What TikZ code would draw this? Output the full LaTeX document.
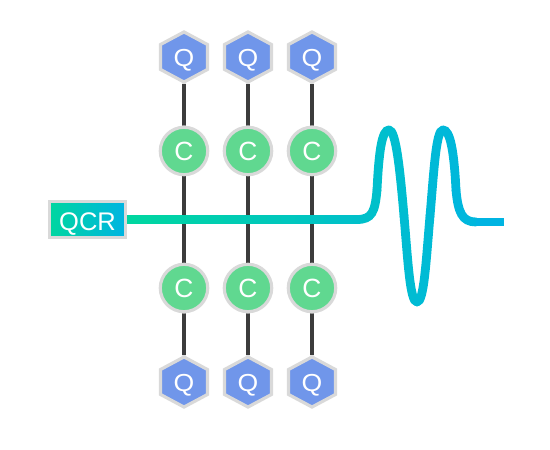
\documentclass[tikz,border=0pt]{standalone}
\usepackage{fontspec}
\setsansfont{Liberation Sans}
\usetikzlibrary{positioning, shapes.geometric, calc, backgrounds}
\colorlet{rim}{black!15}
\definecolor{qubitC}{HTML}{7096EA}
\definecolor{couplerC}{HTML}{60D890}
\definecolor{pulseA}{HTML}{00D6A0}
\definecolor{pulseB}{HTML}{00B4E2}
\definecolor{barC}{HTML}{3C3C3C}
\tikzset{
  qubit/.style  ={regular polygon, regular polygon sides=6, shape border rotate=30,
                  xscale=1.08, transform shape,
                  draw=rim, fill=qubitC, line width=1.8pt, minimum size=28.5pt, inner sep=0pt,
                  text height=11pt, text depth=0pt,
                  text=white, font=\sffamily\fontsize{14}{14}\selectfont},
  coupler/.style={circle, draw=rim, fill=couplerC, line width=1.8pt, minimum size=27pt,
                  inner sep=0pt, text height=11pt, text depth=0pt,
                  text=white, font=\sffamily\fontsize{15}{15}\selectfont},
  qcr/.style    ={rectangle, draw=rim, line width=1.8pt, left color=pulseA, right color=pulseB,
                  minimum width=43pt, minimum height=20.5pt, inner sep=0pt,
                  text height=12.3pt, text depth=0pt,
                  text=white, font=\sffamily\fontsize{14.5}{14.5}\selectfont},
  bar/.style    ={barC, line width=2pt},
  pulse/.style  ={line width=5pt, line cap=round},
}

\begin{document}
\begin{tikzpicture}[x=0.2mm, y=-0.2mm]
\useasboundingbox (0,0) rectangle (550,450);

\node[qcr] (QCR) at (87.5, 219.5) {QCR};

% columns of qubits and couplers
\foreach \n/\x in {a/184, b/248, c/312} {
  \node[qubit]   (Qt\n) at (\x, 57)  {Q};
  \node[coupler] (Ct\n) at (\x, 151) {C};
  \node[coupler] (Cb\n) at (\x, 288) {C};
  \node[qubit]   (Qb\n) at (\x, 382) {Q};
  \begin{scope}[on background layer]
    \draw[bar] (Qt\n) -- (Ct\n);
    \draw[bar] (Ct\n) -- (Cb\n);
    \draw[bar] (Cb\n) -- (Qb\n);
  \end{scope}
}

% pulse
\coordinate (w0) at (357, 219.5);
\coordinate (w1) at (377, 190);
\coordinate (w2) at (389, 130);
\coordinate (w3) at (404, 216);
\coordinate (w4) at (417, 302);
\coordinate (w5) at (430, 216);
\coordinate (w6) at (443, 130);
\coordinate (w7) at (456, 190);
\coordinate (w8) at (476, 222);
\coordinate (w9) at (504, 222);

\begin{scope}[on background layer]
  \foreach \i in {0,...,15} {
    \pgfmathsetmacro{\mix}{\i*4.1}
    \draw[pulse, color=pulseB!\mix!pulseA]
      ($(QCR.east)!\i/16!(w0)$) -- ($(QCR.east)!\i/16+1/16!(w0)$);
  }
  \foreach \a/\b/\ca/\cb/\mix in {
    w0/w1/{372,219.5}/{375,212}/64,
    w1/w2/{379,150}/{382,130}/68,
    w2/w3/{396,130}/{400,170}/72,
    w3/w4/{408,262}/{410,302}/76,
    w4/w5/{424,302}/{426,262}/80,
    w5/w6/{434,170}/{436,130}/84,
    w6/w7/{450,130}/{454,150}/88,
    w7/w8/{458,212}/{462,222}/92}
    \draw[pulse, color=pulseB!\mix!pulseA] (\a) .. controls (\ca) and (\cb) .. (\b);
  \draw[pulse, line cap=butt, color=pulseB] (w8) -- (w9);
\end{scope}

\end{tikzpicture}
\end{document}
